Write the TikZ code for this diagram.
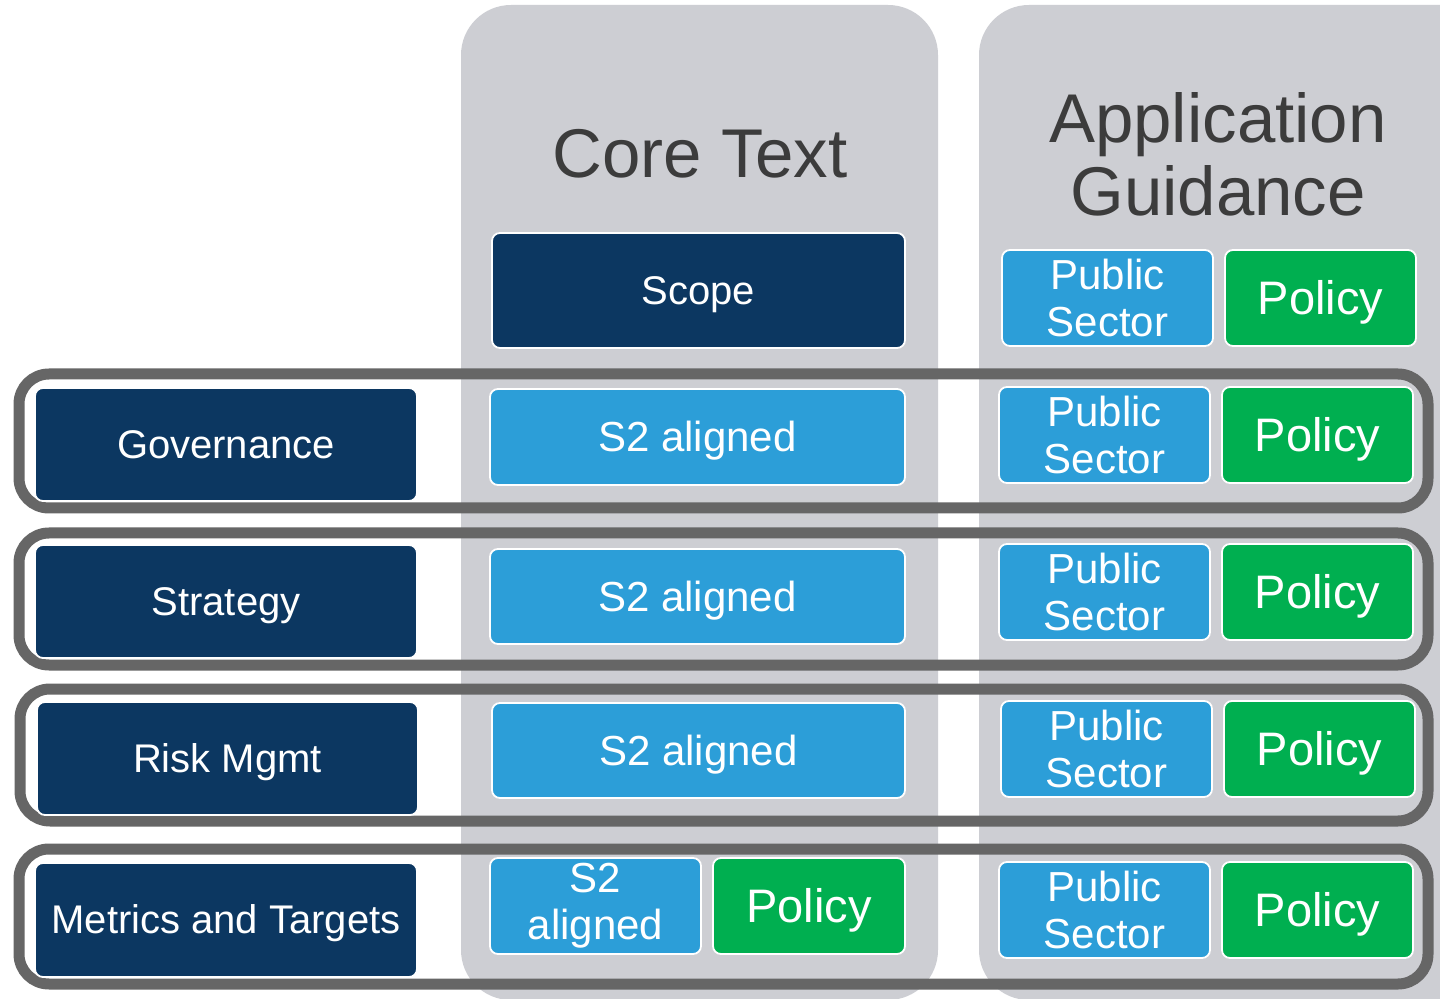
\documentclass[tikz,border=0pt]{standalone}
\usepackage{fontspec}
\setmainfont{Liberation Sans}
\definecolor{navy}{HTML}{0C3761}
\definecolor{sky}{HTML}{2C9ED8}
\definecolor{leaf}{HTML}{00AF50}
\definecolor{colgray}{HTML}{CDCED3}
\definecolor{framegray}{HTML}{666666}
\definecolor{titlegray}{HTML}{3C3C3C}
\newcommand\bx[7]{\node[#6, minimum width={(#4-#2)*0.5pt}, minimum height={(#5-#3)*0.5pt}] (#1) at ({(#2+#4)/2},{(#3+#5)/2}) {#7};}
\tikzset{
  basebox/.style={draw=white, line width=0.9pt, rounded corners=4pt, inner sep=0pt, outer sep=0pt, text=white, align=center},
  navybox/.style={basebox, text height=18pt, text depth=4.2pt, fill=navy, font=\fontsize{20}{23}\selectfont},
  s2box/.style={basebox, text height=18.9pt, text depth=4.4pt, fill=sky, font=\fontsize{21}{23.5}\selectfont},
  s2twobox/.style={basebox, fill=sky, font=\fontsize{21}{23.5}\selectfont},
  psbox/.style={basebox, fill=sky, font=\fontsize{21}{23.5}\selectfont},
  polbox/.style={basebox, text height=21.2pt, text depth=4.9pt, fill=leaf, font=\fontsize{23.5}{26}\selectfont},
  column/.style={fill=colgray, rounded corners=25pt},
  rowframe/.style={draw=framegray, line width=5.5pt, rounded corners=15pt},
  title/.style={text=titlegray, align=center, font=\fontsize{34.5}{36.5}\selectfont, inner sep=0pt}
}
\begin{document}
\begin{tikzpicture}[x=0.5pt,y=-0.5pt]
\useasboundingbox (0,0) rectangle (1440,999);
\clip (0,0) rectangle (1440,999);
\fill[white] (0,0) rectangle (1440,999);
% columns
\path[column] (461,5) rectangle (938,1000);
\path[column] (979,5) rectangle (1500,1000);
% titles
\node[title] (coretitle) at (700,154) {Core Text};
\node[title] (apptitle) at (1218,154) {Application\\Guidance};
% row frames
\draw[rowframe] (19,374) rectangle (1428,508);
\draw[rowframe] (19,533) rectangle (1428,665);
\draw[rowframe] (20,689) rectangle (1428,821);
\draw[rowframe] (19,849) rectangle (1428,984);
% header boxes
\bx{scope}{492}{233}{905}{348}{navybox}{Scope}
\bx{ps0}{1002}{250}{1213}{346}{psbox}{Public\\Sector}
\bx{pol0}{1225}{250}{1416}{346}{polbox}{Policy}
% row 1
\bx{gov}{35}{388}{417}{501}{navybox}{Governance}
\bx{s2a}{490}{389}{905}{485}{s2box}{S2 aligned}
\bx{ps1}{999}{387}{1210}{483}{psbox}{Public\\Sector}
\bx{pol1}{1222}{387}{1413}{483}{polbox}{Policy}
% row 2
\bx{strat}{35}{545}{417}{658}{navybox}{Strategy}
\bx{s2b}{490}{549}{905}{644}{s2box}{S2 aligned}
\bx{ps2}{999}{544}{1210}{640}{psbox}{Public\\Sector}
\bx{pol2}{1222}{544}{1413}{640}{polbox}{Policy}
% row 3
\bx{risk}{37}{702}{418}{815}{navybox}{Risk Mgmt}
\bx{s2c}{492}{703}{905}{798}{s2box}{S2 aligned}
\bx{ps3}{1001}{701}{1212}{797}{psbox}{Public\\Sector}
\bx{pol3}{1224}{701}{1415}{797}{polbox}{Policy}
% row 4
\bx{metrics}{35}{863}{417}{977}{navybox}{Metrics and Targets}
\bx{s2d}{490}{858}{701}{954}{s2twobox}{S2\\aligned}
\bx{polc}{713}{858}{905}{954}{polbox}{Policy}
\bx{ps4}{999}{862}{1210}{958}{psbox}{Public\\Sector}
\bx{pol4}{1222}{862}{1413}{958}{polbox}{Policy}
\end{tikzpicture}
\end{document}
